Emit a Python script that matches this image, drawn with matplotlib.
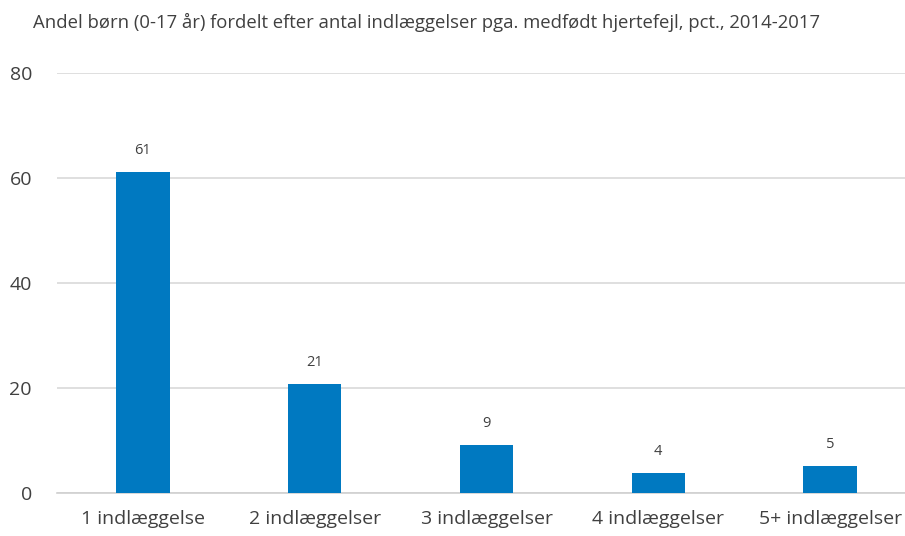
import matplotlib.pyplot as plt
import numpy as np

plt.rcParams['font.family'] = ['Open Sans', 'DejaVu Sans']

categories = ['1 indlæggelse', '2 indlæggelser', '3 indlæggelser',
              '4 indlæggelser', '5+ indlæggelser']
values = [61.1, 20.8, 9.2, 3.8, 5.1]
labels = ['61', '21', '9', '4', '5']
yticks = [0, 20, 40, 60, 80]

fig = plt.figure(figsize=(9.05, 5.36), dpi=100)
ax = fig.add_axes([57 / 905, 1 - 493 / 536, (916 - 57) / 905, (493 - 73) / 536])

x = np.arange(len(categories))
bars = ax.bar(x, values, width=0.31, color='#0079C1', zorder=3)
for b, lab in zip(bars, labels):
    ax.annotate(lab, (b.get_x() + b.get_width() / 2, b.get_height()),
                xytext=(0, 10), textcoords='offset points',
                ha='center', va='bottom', fontsize=10.5, color='#404040')

ax.set_xlim(-0.5, len(categories) - 0.5)
ax.set_ylim(0, 80)
ax.set_yticks(yticks)
ax.set_xticks(x)
ax.set_xticklabels(categories)
ax.tick_params(axis='both', length=0, labelsize=14, colors='#404040')
ax.tick_params(axis='y', pad=18)
ax.tick_params(axis='x', pad=12)
ax.grid(axis='y', color='#D9D9D9', linewidth=1.2, zorder=0)
for s in ['top', 'right', 'left']:
    ax.spines[s].set_visible(False)
ax.spines['bottom'].set_color('#D0D0D0')
ax.spines['bottom'].set_linewidth(1.2)

fig.text(33 / 905, 1 - 22 / 536,
         'Andel børn (0-17 år) fordelt efter antal indlæggelser pga. medfødt hjertefejl, pct., 2014-2017',
         fontsize=13.3, color='#404040', va='center', ha='left')

fig.savefig('out.png', dpi=100)
